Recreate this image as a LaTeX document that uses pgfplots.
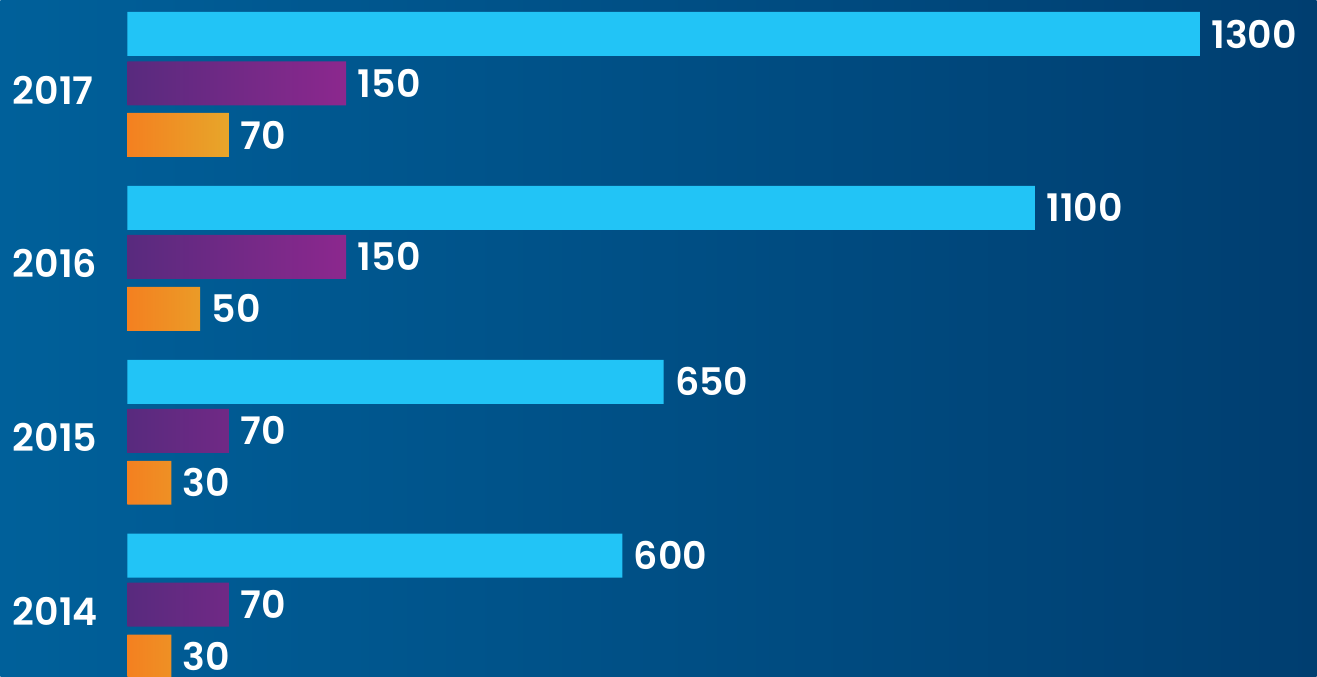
\documentclass[border=0pt]{standalone}
\usepackage{pgfplots}
\pgfplotsset{compat=1.18}
\usepackage{pgfplotstable}
\usepackage{fontspec}
\setmainfont{Poppins}
\newfontfamily\labelfont{Poppins SemiBold}
\definecolor{cyanbar}{RGB}{34,196,246}
\definecolor{purL}{RGB}{88,42,126}
\definecolor{purR}{RGB}{140,40,142}
\definecolor{orgL}{RGB}{244,128,32}
\definecolor{orgR}{RGB}{231,166,42}
\definecolor{bgL}{RGB}{0,96,154}
\definecolor{bgR}{RGB}{0,62,112}
\pgfplotstableread{
y len lab
643 1300 1300
469 1100 1100
295 650 650
121 600 600
}\cyantab
\pgfplotstableread{
y len lab
593.5 265.3 150
420 265.3 150
246 123.2 70
72 123.2 70
}\purtab
\pgfplotstableread{
y len lab
542 123.2 70
368 88.4 50
194 53.3 30
20 53.3 30
}\orgtab
\begin{document}
\begin{tikzpicture}
\begin{axis}[
  scale only axis,
  width=13.17cm, height=6.77cm,
  xmin=-153.86, xmax=1441.7,
  ymin=0, ymax=677,
  axis line style={draw=none},
  major tick length=0pt,
  xtick=\empty,
  ytick={587,413,239,65},
  yticklabels={2017,2016,2015,2014},
  yticklabel style={anchor=west, inner sep=0pt, xshift=1.17mm, text=white, font=\labelfont\fontsize{10.8}{13}\selectfont},
  axis background/.style={left color=bgL, right color=bgR},
  bar width=4.4mm,
  point meta=explicit symbolic,
  nodes near coords={\pgfplotspointmeta},
  every node near coord/.append style={anchor=west, inner sep=0pt, xshift=1.1mm, text=white, font=\labelfont\fontsize{10.8}{13}\selectfont},
]
\addplot[xbar, bar shift=0pt, draw=none, fill=cyanbar] table[x=len, y=y, meta=lab] {\cyantab};
\addplot[xbar, bar shift=0pt, draw=none, left color=purL, right color=purR] table[x=len, y=y, meta=lab] {\purtab};
\addplot[xbar, bar shift=0pt, draw=none, left color=orgL, right color=orgR] table[x=len, y=y, meta=lab] {\orgtab};
\end{axis}
\end{tikzpicture}
\end{document}
